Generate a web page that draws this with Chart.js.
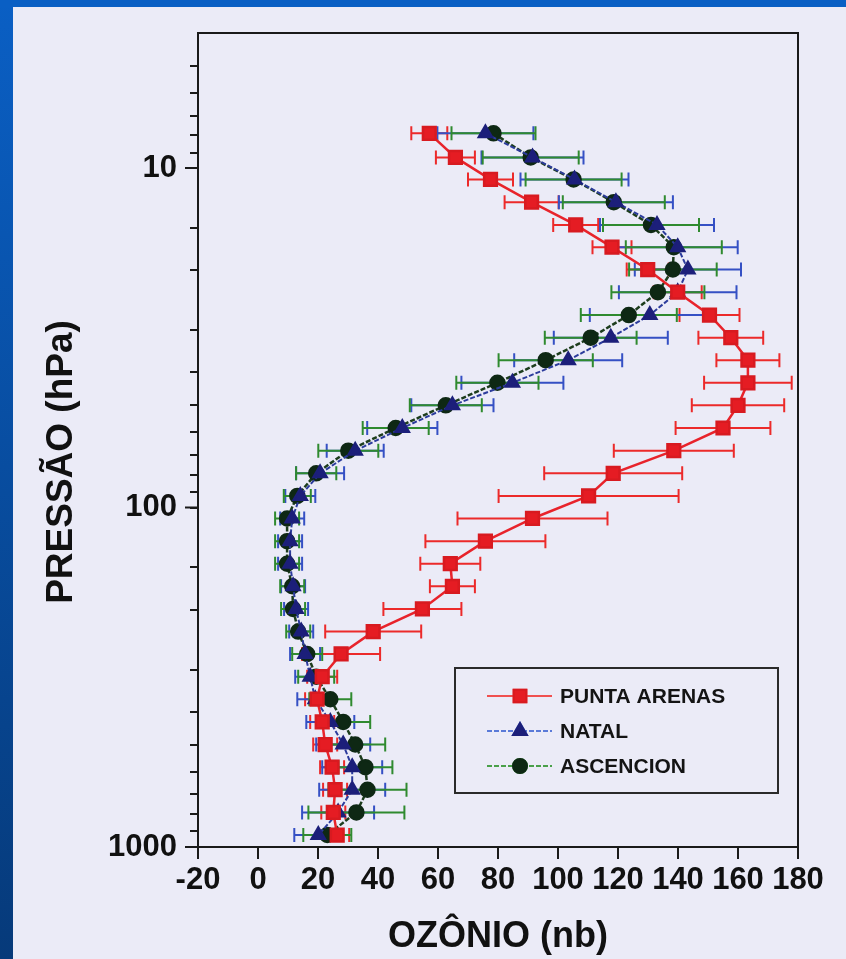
<!DOCTYPE html>
<html>
<head>
<meta charset="utf-8">
<script src="https://cdn.jsdelivr.net/npm/chart.js@4.4.1/dist/chart.umd.min.js"></script>
<style>
  html, body { margin: 0; padding: 0; background: #ebebf7; }
  #wrap { width: 846px; height: 959px; }
</style>
</head>
<body>
<div id="wrap"><canvas id="ozoneChart" width="846" height="959"></canvas></div>
<script>
// pressure levels (hPa), shared by all three soundings
const pressure = [7.9, 9.3, 10.8, 12.6, 14.7, 17.1, 19.9, 23.2, 27.1, 31.6, 36.8, 42.9, 50, 58.3, 68, 79.3,
                  92.4, 107.7, 125.6, 146.4, 170.6, 198.9, 232, 270, 315, 367, 428, 499, 582, 678, 791, 922];

// ozone (nb) and error half-widths
const puntaArenas = [57.1, 65.8, 77.5, 91.2, 105.9, 118, 129.9, 139.9, 150.5, 157.6, 163.3, 163.3, 160, 155, 138.6, 118.4,
                     110.2, 91.5, 75.8, 64.1, 64.8, 54.8, 38.4, 27.7, 21.4, 19.7, 21.4, 22.4, 24.7, 25.7, 25.1, 26.4];
const puntaArenasErr = [6, 6.5, 7.5, 9, 7.5, 6.5, 7, 8, 10, 10.8, 10.5, 14.6, 15.4, 15.8, 20, 23,
                        30, 25, 20, 10, 7.5, 13, 16, 13, 5, 4, 4, 4, 4, 4, 4, 4];

const natal = [75.8, 91.5, 105.5, 119.3, 133, 139.9, 143.3, 139.9, 130.6, 117.6, 103.4, 84.8, 64.8, 48.1, 32.4, 20.7,
               14.1, 11.4, 10.7, 10.7, 11.7, 12.7, 14.4, 15.7, 17.4, 19.1, 24.1, 28.4, 31.4, 31.4, 26.7, 20.1];
const natalErr = [16, 17, 18, 19, 19, 20, 17.7, 19.6, 20, 19, 18, 17, 13.7, 11.7, 9.5, 8,
                  5, 4, 4, 4, 4, 4, 4, 5, 5, 6, 8, 9, 10, 11, 12, 8];

const ascencion = [78.5, 90.9, 105.2, 118.6, 131, 138.6, 138.3, 133.3, 123.6, 110.9, 95.9, 79.8, 62.6, 45.9, 30.1, 19.4,
                   13.1, 9.7, 9.7, 9.7, 11.4, 11.7, 13.4, 16.4, 19.4, 24.1, 28.4, 32.4, 35.8, 36.5, 32.8, 23.1];
const ascencionErr = [14, 16, 16, 17, 16, 16, 14.6, 15.5, 16, 15.3, 15.7, 13.7, 12, 11, 10, 6.7,
                      4.5, 4, 4, 4, 4, 4, 4, 5, 6, 7, 9, 10, 9, 13, 16, 8];

const labelTicks = [10, 100, 1000];
const font = 'Liberation Sans, Arial, Helvetica, sans-serif';

const toPoints = (vals) => vals.map((v, i) => ({ x: v, y: pressure[i] }));

// slide background: lavender panel with blue frame
const backdrop = {
    id: 'backdrop',
    beforeDraw(chart) {
        const { ctx, width, height } = chart;
        ctx.save();
        ctx.fillStyle = '#ebebf7';
        ctx.fillRect(0, 0, width, height);
        const g = ctx.createLinearGradient(0, 0, 0, height);
        g.addColorStop(0, '#0a5fc4');
        g.addColorStop(1, '#063a7a');
        ctx.fillStyle = g;
        ctx.fillRect(0, 0, 13, height);
        ctx.fillStyle = '#0a5fc4';
        ctx.fillRect(0, 0, width, 7);
        ctx.restore();
    }
};

// horizontal error bars, drawn under the lines and markers
const errorBars = {
    id: 'errorBars',
    beforeDatasetsDraw(chart) {
        const { ctx } = chart;
        const xs = chart.scales.x, ys = chart.scales.y;
        ctx.save();
        chart.data.datasets.forEach((ds) => {
            ctx.strokeStyle = ds.errColor;
            ctx.lineWidth = 2;
            ds.data.forEach((p, i) => {
                const e = ds.errors[i];
                const y = ys.getPixelForValue(p.y);
                const x0 = xs.getPixelForValue(p.x - e);
                const x1 = xs.getPixelForValue(p.x + e);
                ctx.beginPath();
                ctx.moveTo(x0, y); ctx.lineTo(x1, y);
                ctx.moveTo(x0, y - 7); ctx.lineTo(x0, y + 7);
                ctx.moveTo(x1, y - 7); ctx.lineTo(x1, y + 7);
                ctx.stroke();
            });
        });
        ctx.restore();
    }
};

// frame, longer major ticks, y title and the boxed legend
const frameAndLegend = {
    id: 'frameAndLegend',
    afterDraw(chart) {
        const { ctx, chartArea: a } = chart;
        const ys = chart.scales.y;
        ctx.save();
        ctx.strokeStyle = '#1a1a1a';
        ctx.lineWidth = 2;
        ctx.strokeRect(a.left, a.top, a.right - a.left, a.bottom - a.top);

        ctx.beginPath();
        labelTicks.forEach((v) => {
            const y = ys.getPixelForValue(v);
            ctx.moveTo(a.left - 13, y); ctx.lineTo(a.left, y);
        });
        ctx.stroke();

        ctx.save();
        ctx.translate(62, 462);
        ctx.rotate(-Math.PI / 2);
        ctx.fillStyle = '#111';
        ctx.font = 'bold 37px ' + font;
        ctx.textAlign = 'center';
        ctx.textBaseline = 'middle';
        ctx.fillText('PRESSÃO (hPa)', 0, 0);
        ctx.restore();

        ctx.lineWidth = 2;
        ctx.strokeStyle = '#2a2a2a';
        ctx.strokeRect(455, 668, 323, 125);

        const rows = [696, 731, 766];
        chart.data.datasets.forEach((ds, i) => {
            const y = rows[i];
            ctx.strokeStyle = ds.legendLine;
            ctx.lineWidth = 2;
            ctx.setLineDash(ds.borderDash || []);
            ctx.beginPath();
            ctx.moveTo(487, y); ctx.lineTo(552, y);
            ctx.stroke();
            ctx.setLineDash([]);
            Chart.helpers.drawPoint(ctx, {
                pointStyle: ds.pointStyle, radius: ds.pointRadius, borderWidth: 1, rotation: 0
            }, 520, y);
            ctx.fillStyle = ds.pointBackgroundColor;
            ctx.strokeStyle = ds.pointBorderColor;
            ctx.fill();
            ctx.stroke();
            ctx.fillStyle = '#141414';
            ctx.font = 'bold 21px ' + font;
            ctx.textBaseline = 'middle';
            ctx.fillText(ds.label, 560, y + 1);
        });
        ctx.restore();
    }
};

const ctx = document.getElementById('ozoneChart').getContext('2d');
new Chart(ctx, {
    type: 'line',
    data: {
        datasets: [{
            label: 'PUNTA ARENAS',
            data: toPoints(puntaArenas),
            errors: puntaArenasErr,
            errColor: '#ec2a2a',
            legendLine: '#f05050',
            borderColor: '#e8232b',
            borderWidth: 2.5,
            pointStyle: 'rect',
            pointRadius: 9,
            pointBackgroundColor: '#e51c23',
            pointBorderColor: '#d81a20'
        }, {
            label: 'NATAL',
            data: toPoints(natal),
            errors: natalErr,
            errColor: '#3550c4',
            legendLine: '#5a7ad8',
            borderColor: '#2c3c9c',
            borderWidth: 2,
            borderDash: [5, 2],
            pointStyle: 'triangle',
            pointRadius: 8,
            pointBackgroundColor: '#1c1f7a',
            pointBorderColor: '#1c1f7a'
        }, {
            label: 'ASCENCION',
            data: toPoints(ascencion),
            errors: ascencionErr,
            errColor: '#2f8a2f',
            legendLine: '#4aa04a',
            borderColor: '#1d3d1d',
            borderWidth: 2.5,
            borderDash: [5, 2],
            pointStyle: 'circle',
            pointRadius: 7,
            pointBackgroundColor: '#0e2814',
            pointBorderColor: '#0e2814'
        }]
    },
    options: {
        responsive: false,
        animation: false,
        layout: { padding: { top: 33, right: 48, left: 0, bottom: 0 } },
        plugins: {
            legend: { display: false },
            tooltip: { enabled: false }
        },
        scales: {
            x: {
                type: 'linear',
                min: -20,
                max: 180,
                afterFit: (scale) => { scale.height = 112; },
                ticks: {
                    stepSize: 20,
                    autoSkip: false,
                    maxRotation: 0,
                    padding: 3,
                    color: '#111',
                    font: { family: font, size: 31, weight: 'bold' }
                },
                grid: { display: true, drawOnChartArea: false, drawTicks: true, tickLength: 12, color: '#1a1a1a', lineWidth: 2 },
                border: { display: true, color: '#1a1a1a', width: 2 },
                title: {
                    display: true,
                    text: 'OZÔNIO (nb)',
                    color: '#111',
                    padding: { top: 0, bottom: 0 },
                    font: { family: font, size: 36, weight: 'bold' }
                }
            },
            y: {
                type: 'logarithmic',
                min: 4,
                max: 1000,
                reverse: true,
                afterFit: (scale) => { scale.width = 198; },
                afterBuildTicks: (scale) => { scale.ticks = scale.ticks.filter((t) => t.value >= 5); },
                ticks: {
                    autoSkip: false,
                    padding: 13,
                    color: '#111',
                    font: { family: font, size: 31, weight: 'bold' },
                    callback: (v) => labelTicks.includes(v) ? String(v) : ''
                },
                grid: {
                    display: true, drawOnChartArea: false, drawTicks: true, color: '#1a1a1a', lineWidth: 2,
                    tickLength: 8
                },
                border: { display: true, color: '#1a1a1a', width: 2 },
                title: { display: false }
            }
        }
    },
    plugins: [backdrop, errorBars, frameAndLegend]
});
</script>
</body>
</html>
